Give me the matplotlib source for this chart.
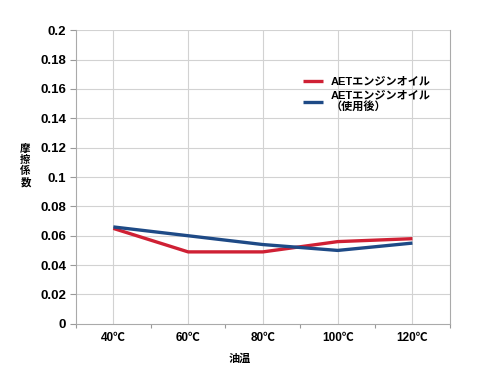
import numpy as np
import matplotlib.pyplot as plt

plt.rcParams['font.family'] = ['Liberation Sans', 'Noto Sans CJK JP', 'DejaVu Sans']

# datos
temperaturas = ['40℃', '60℃', '80℃', '100℃', '120℃']
aet_nuevo = [0.065, 0.049, 0.049, 0.056, 0.058]
aet_usado = [0.066, 0.060, 0.054, 0.050, 0.055]
nombres = ['AETエンジンオイル', 'AETエンジンオイル\n（使用後）']
y_ticks = [0, 0.02, 0.04, 0.06, 0.08, 0.1, 0.12, 0.14, 0.16, 0.18, 0.2]

fig = plt.figure(figsize=(4.9, 3.68), dpi=100)
ax = fig.add_axes([0.155, 0.12, 0.763, 0.798])

x = np.arange(len(temperaturas))
ax.plot(x, aet_nuevo, color='#cf2034', lw=2.4, label=nombres[0], solid_capstyle='butt')
ax.plot(x, aet_usado, color='#1e4a86', lw=2.4, label=nombres[1], solid_capstyle='butt')

ax.set_xlim(-0.5, len(temperaturas) - 0.5)
ax.set_ylim(0, 0.2)
ax.set_yticks(y_ticks)
ax.set_yticklabels([('%g' % v) for v in y_ticks], fontsize=9.5, fontweight='bold')

# rejilla
for xi in x:
    ax.axvline(xi, color='#d2d2d2', lw=0.8, zorder=0)
for yv in y_ticks[1:]:
    ax.axhline(yv, color='#d2d2d2', lw=0.8, zorder=0)

ax.set_xticks(np.arange(len(temperaturas) + 1) - 0.5)
ax.set_xticklabels([])
ax.tick_params(axis='x', length=3, color='#999999')
ax.tick_params(axis='y', length=4, color='#999999', pad=3)
for xi, t in zip(x, temperaturas):
    ax.text(xi, -0.0095, t, ha='center', va='center', fontsize=8.5, fontweight='bold',
            family=['Liberation Sans', 'Noto Sans CJK JP'])

for s in ['left', 'bottom', 'right']:
    ax.spines[s].set_color('#aaaaaa')
ax.spines['top'].set_visible(False)

fig.text(0.052, 0.55, '摩\n擦\n係\n数', ha='center', va='center', fontsize=7.5,
         fontweight='bold', family='Noto Sans CJK JP', linespacing=1.1)
fig.text(0.49, 0.025, '油温', ha='center', va='center', fontsize=8,
         fontweight='bold', family='Noto Sans CJK JP')

leg = ax.legend(loc='upper left', bbox_to_anchor=(0.58, 0.875), frameon=False,
                prop={'family': ['Liberation Sans', 'Noto Sans CJK JP'], 'weight': 'bold', 'size': 8},
                handlelength=1.8, handletextpad=0.7, labelspacing=0.3)

plt.savefig('out.png', dpi=100)
